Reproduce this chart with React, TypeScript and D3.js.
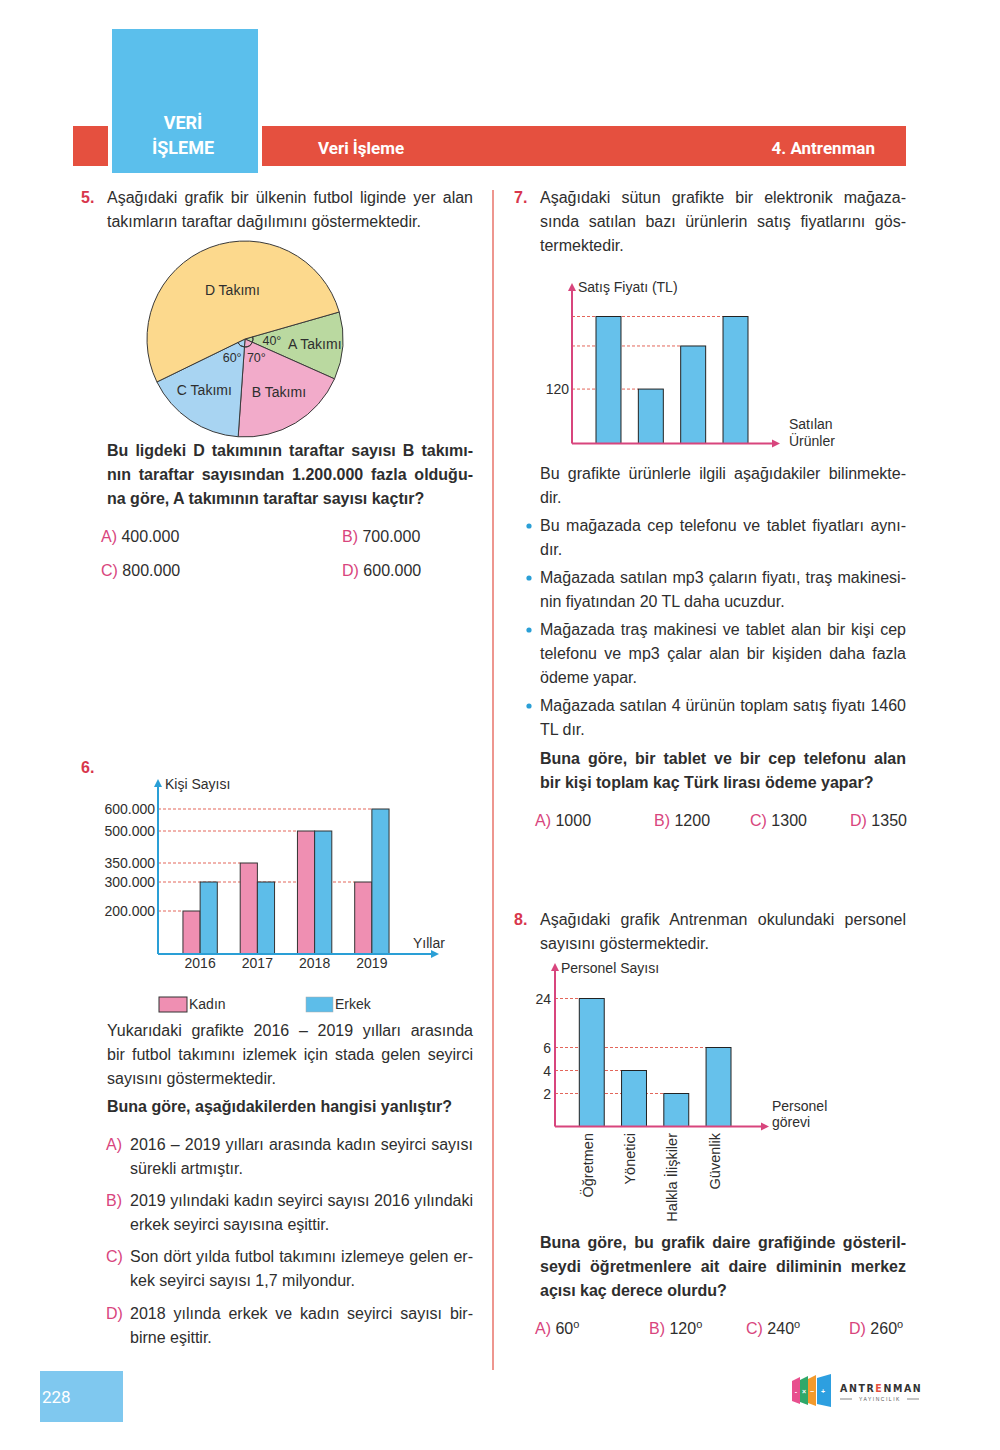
import { useEffect, useRef } from "react"
import * as d3 from "d3"

const FONT = "'Liberation Sans', Arial, sans-serif"
const INK = "#2e2e2e"
const NUM_RED = "#d8364c"
const OPT_PINK = "#d8457d"
const DASH = "#e3665a"

// Q5 pie
const teams = ["A Takımı", "B Takımı", "C Takımı", "D Takımı"]
const teamAngles = [40, 70, 60, 190]
const teamColors = ["#bad9a0", "#f2abca", "#a8d4f2", "#fcd98d"]
const angleLabels = ["40°", "70°", "60°"]

// Q6 grouped bars
const years = ["2016", "2017", "2018", "2019"]
const kadin = [200000, 350000, 500000, 300000]
const erkek = [300000, 300000, 500000, 600000]
const q6Ticks = [200000, 300000, 350000, 500000, 600000]

// Q7 bars (unlabelled products)
const products = ["u1", "u2", "u3", "u4"]
const prices = [280, 120, 215, 280]
const q7Labelled = [120]

// Q8 bars
const roles = ["Öğretmen", "Yönetici", "Halkla İlişkiler", "Güvenlik"]
const staff = [24, 4, 2, 6]
const q8Ticks = [2, 4, 6, 24]

const trFormat = d3.formatLocale({ decimal: ",", thousands: ".", grouping: [3], currency: ["", ""] }).format(",")

function Para({ x, y, lh = 24, w, lines, bold = false, size = 16 }: any) {
  return (
    <g>
      {lines.map((t: string, i: number) => (
        <text key={i} x={x} y={y + i * lh} data-w={i < lines.length - 1 ? w : undefined}
          fontSize={size} fontWeight={bold ? 700 : 400} fill={INK}>{t}</text>
      ))}
    </g>
  )
}

function Arrow({ x, y, dir, color }: any) {
  const p = dir === "up" ? `M${x},${y} L${x - 4},${y + 8} L${x + 4},${y + 8} Z` : `M${x},${y} L${x - 8},${y - 4} L${x - 8},${y + 4} Z`
  return <path d={p} fill={color} />
}

function Pie() {
  const cx = 245, cy = 339, r = 98
  const start = (74 * Math.PI) / 180
  const arcs = d3.pie<number>().sort(null).startAngle(start).endAngle(start + 2 * Math.PI)(teamAngles)
  const arc = d3.arc<d3.PieArcDatum<number>>().innerRadius(0).outerRadius(r)
  const small = d3.arc<d3.PieArcDatum<number>>().innerRadius(8).outerRadius(8)
  const labelR = [70, 62, 62, 52]
  const labelDx = [0, 2, -6, 6]
  const degR = [27, 22, 23]
  return (
    <g transform={`translate(${cx},${cy})`} fontSize={14} fill={INK}>
      {arcs.map((a, i) => (
        <path key={i} d={arc(a)!} fill={teamColors[i]} stroke="#3a3a3a" strokeWidth={1} />
      ))}
      {arcs.slice(0, 3).map((a, i) => (
        <path key={"s" + i} d={small(a)!} fill="none" stroke="#3a3a3a" strokeWidth={1} />
      ))}
      {arcs.map((a, i) => {
        const m = (a.startAngle + a.endAngle) / 2
        return (
          <text key={"l" + i} x={labelR[i] * Math.sin(m) + labelDx[i]} y={-labelR[i] * Math.cos(m) + 5} textAnchor="middle">{teams[i]}</text>
        )
      })}
      {arcs.slice(0, 3).map((a, i) => {
        const m = (a.startAngle + a.endAngle) / 2
        return (
          <text key={"d" + i} x={degR[i] * Math.sin(m)} y={-degR[i] * Math.cos(m) + 4} textAnchor="middle" fontSize={12.5}>{angleLabels[i]}</text>
        )
      })}
    </g>
  )
}

function Chart6() {
  const x0 = 158, base = 954
  const x = d3.scaleBand().domain(years).range([171.5, 400.5]).paddingInner(0.4).paddingOuter(0.2)
  const xi = d3.scaleBand().domain(["k", "e"]).range([0, x.bandwidth()])
  // the printed axis is not evenly spaced, so the scale follows its drawn tick spacing
  const y = d3.scaleLinear().domain([0, 200000, 300000, 350000, 500000, 600000]).range([base, 911, 882, 863, 831, 809])
  const blue = "#2a9fd6"
  const bars = years.flatMap((yr, i) => [
    { yr, s: "k", v: kadin[i], c: "#ef8fb2" },
    { yr, s: "e", v: erkek[i], c: "#5dbde9" },
  ])
  const ends = q6Ticks.map((t) => {
    const hit = bars.filter((b) => b.v === t)
    const last = hit[hit.length - 1]
    const firstOfLastYear = hit.find((b) => b.yr === last.yr)!
    return x(firstOfLastYear.yr)! + xi(firstOfLastYear.s)!
  })
  return (
    <g fontSize={14} fill={INK}>
      {q6Ticks.map((t, i) => (
        <g key={t}>
          <line x1={x0} x2={ends[i]} y1={y(t)} y2={y(t)} stroke={DASH} strokeDasharray="3,2" />
          <text x={155} y={y(t) + 5} textAnchor="end">{trFormat(t)}</text>
        </g>
      ))}
      {bars.map((b, i) => (
        <rect key={i} x={x(b.yr)! + xi(b.s)!} y={y(b.v)} width={xi.bandwidth()} height={base - y(b.v)}
          fill={b.c} stroke="#333" strokeWidth={1} />
      ))}
      {years.map((yr) => (
        <text key={yr} x={x(yr)! + x.bandwidth() / 2} y={968} textAnchor="middle">{yr}</text>
      ))}
      <line x1={x0} x2={x0} y1={base} y2={786} stroke={blue} strokeWidth={2} />
      <line x1={x0} x2={432} y1={base} y2={base} stroke={blue} strokeWidth={2} />
      <Arrow x={x0} y={779} dir="up" color={blue} />
      <Arrow x={439} y={base} dir="right" color={blue} />
      <text x={165} y={789}>Kişi Sayısı</text>
      <text x={413} y={948}>Yıllar</text>
      <rect x={159} y={997} width={28} height={15} fill="#ef8fb2" stroke="#333" />
      <text x={189} y={1009}>Kadın</text>
      <rect x={306} y={997} width={27} height={15} fill="#5dbde9" stroke="#aaa" strokeWidth={0.5} />
      <text x={335} y={1009}>Erkek</text>
    </g>
  )
}

function Chart7() {
  const x0 = 572, base = 443.5
  const mag = "#d8457d"
  const x = d3.scaleBand().domain(products).range([596, 748]).paddingInner(0.41).paddingOuter(0)
  const y = d3.scaleLinear().domain([0, 280]).range([base, 316.5])
  const levels = Array.from(new Set(prices))
  return (
    <g fontSize={14} fill={INK}>
      {levels.map((v) => {
        const idx = prices.lastIndexOf(v)
        return <line key={v} x1={x0} x2={x(products[idx])!} y1={y(v)} y2={y(v)} stroke={DASH} strokeDasharray="3,2" />
      })}
      {q7Labelled.map((v) => (
        <text key={v} x={569} y={y(v) + 5} textAnchor="end">{v}</text>
      ))}
      {products.map((p, i) => (
        <rect key={p} x={x(p)} y={y(prices[i])} width={x.bandwidth()} height={base - y(prices[i])}
          fill="#66c1eb" stroke="#222" strokeWidth={1} />
      ))}
      <line x1={x0} x2={x0} y1={base} y2={290} stroke={mag} strokeWidth={2} />
      <line x1={x0} x2={773} y1={base} y2={base} stroke={mag} strokeWidth={2} />
      <Arrow x={x0} y={283} dir="up" color={mag} />
      <Arrow x={780} y={base} dir="right" color={mag} />
      <text x={578} y={292}>Satış Fiyatı (TL)</text>
      <text x={789} y={429}>Satılan</text>
      <text x={789} y={446}>Ürünler</text>
    </g>
  )
}

function Chart8() {
  const x0 = 555, base = 1126.5
  const mag = "#d8457d"
  const x = d3.scaleBand().domain(roles).range([579.3, 731]).paddingInner(0.41).paddingOuter(0)
  // broken value axis: 0-6 spaced, then a jump to 24
  const y = d3.scaleLinear().domain([0, 2, 6, 24]).range([base, 1093.5, 1047.5, 998.5])
  return (
    <g fontSize={14} fill={INK}>
      {q8Ticks.map((t) => {
        const idx = staff.lastIndexOf(t)
        return (
          <g key={t}>
            <line x1={x0} x2={x(roles[idx])!} y1={y(t)} y2={y(t)} stroke={DASH} strokeDasharray="3,2" />
            <text x={551} y={y(t) + 5} textAnchor="end">{t}</text>
          </g>
        )
      })}
      {roles.map((r, i) => (
        <g key={r}>
          <rect x={x(r)} y={y(staff[i])} width={x.bandwidth()} height={base - y(staff[i])}
            fill="#66c1eb" stroke="#222" strokeWidth={1} />
          <text transform={`translate(${x(r)! + x.bandwidth() / 2 + 1},1133) rotate(-90)`} textAnchor="end" fontSize={14.5}>{r}</text>
        </g>
      ))}
      <line x1={x0} x2={x0} y1={base} y2={970} stroke={mag} strokeWidth={2} />
      <line x1={x0} x2={762} y1={base} y2={base} stroke={mag} strokeWidth={2} />
      <Arrow x={x0} y={963} dir="up" color={mag} />
      <Arrow x={769} y={base} dir="right" color={mag} />
      <text x={561} y={973}>Personel Sayısı</text>
      <text x={772} y={1111}>Personel</text>
      <text x={772} y={1127}>görevi</text>
    </g>
  )
}

function Opt({ x, y, l, t, sup }: any) {
  return (
    <text x={x} y={y} fontSize={16} fill={INK}>
      <tspan fill={OPT_PINK}>{l})</tspan> {t}
      {sup ? <tspan fontSize={11} dy={-6}>o</tspan> : null}
    </text>
  )
}

function Logo() {
  const tabs = [
    { x: 792, c: "#e8508e", s: "-" },
    { x: 800, c: "#2fa86a", s: "×" },
    { x: 808, c: "#f39a2c", s: "−" },
    { x: 817, c: "#2d9fe0", s: "+" },
  ]
  return (
    <g>
      {tabs.map((t, i) => (
        <g key={i}>
          <path d={`M${t.x},${1381 - i} L${t.x + (i === 3 ? 14 : 8)},${1377 - i} L${t.x + (i === 3 ? 14 : 8)},${1404 + i} L${t.x},${1401 + i} Z`} fill={t.c} />
          <text x={t.x + (i === 3 ? 6 : 4)} y={1394} fontSize={7} fill="#fff" textAnchor="middle" fontWeight={700}>{t.s}</text>
        </g>
      ))}
      <text x={840} y={1392} fontSize={10.5} fontWeight={700} fill="#333" letterSpacing={1.6} fontFamily="'DejaVu Sans Condensed', sans-serif">
        ANTR<tspan fill="#e5503f">E</tspan>NMAN
      </text>
      <line x1={840} x2={852} y1={1399} y2={1399} stroke="#555" strokeWidth={0.7} />
      <text x={880} y={1401} fontSize={5} fill="#555" textAnchor="middle" letterSpacing={1.5}>YAYINCILIK</text>
      <line x1={907} x2={919} y1={1399} y2={1399} stroke="#555" strokeWidth={0.7} />
    </g>
  )
}

export default function App() {
  const ref = useRef<SVGSVGElement>(null)

  useEffect(() => {
    if (!ref.current) return
    // justify lines by spreading the spaces
    d3.select(ref.current)
      .selectAll<SVGTextElement, unknown>("text[data-w]")
      .each(function () {
        this.setAttribute("word-spacing", "0")
        const w = +this.getAttribute("data-w")!
        const natural = this.getComputedTextLength()
        const spaces = (this.textContent || "").split(" ").length - 1
        if (spaces > 0 && natural < w) this.setAttribute("word-spacing", String((w - natural) / spaces))
      })
  }, [])

  return (
    <div style={{ position: "absolute", left: 0, top: 0 }}>
      <svg ref={ref} width={1000} height={1450} style={{ display: "block", background: "#fff" }} fontFamily={FONT}>
        {/* header */}
        <rect x={73} y={126} width={833} height={40} fill="#e5503f" />
        <rect x={110} y={27} width={150} height={148} fill="#5bbfec" stroke="#fff" strokeWidth={4} />
        <text x={183} y={129} fill="#fff" fontSize={18} fontWeight={700} textAnchor="middle" fontFamily="Roboto, sans-serif">VERİ</text>
        <text x={183} y={154} fill="#fff" fontSize={18} fontWeight={700} textAnchor="middle" fontFamily="Roboto, sans-serif">İŞLEME</text>
        <text x={318} y={154} fill="#fff" fontSize={17} fontWeight={700} fontFamily="Roboto, sans-serif">Veri İşleme</text>
        <text x={875} y={154} fill="#fff" fontSize={17} fontWeight={700} textAnchor="end" fontFamily="Roboto, sans-serif">4. Antrenman</text>

        <line x1={493} x2={493} y1={190} y2={1370} stroke="#e8736a" strokeWidth={1.5} />

        {/* Q5 */}
        <text x={81} y={203} fontSize={16} fontWeight={700} fill={NUM_RED}>5.</text>
        <Para x={107} y={203} w={366} lines={["Aşağıdaki grafik bir ülkenin futbol liginde yer alan", "takımların taraftar dağılımını göstermektedir."]} />
        <Pie />
        <Para x={107} y={456} w={366} bold lines={["Bu ligdeki D takımının taraftar sayısı B takımı-", "nın taraftar sayısından 1.200.000 fazla olduğu-", "na göre, A takımının taraftar sayısı kaçtır?"]} />
        <Opt x={101} y={542} l="A" t="400.000" />
        <Opt x={342} y={542} l="B" t="700.000" />
        <Opt x={101} y={576} l="C" t="800.000" />
        <Opt x={342} y={576} l="D" t="600.000" />

        {/* Q6 */}
        <text x={81} y={773} fontSize={16} fontWeight={700} fill={NUM_RED}>6.</text>
        <Chart6 />
        <Para x={107} y={1036} w={366} lines={["Yukarıdaki grafikte 2016 – 2019 yılları arasında", "bir futbol takımını izlemek için stada gelen seyirci", "sayısını göstermektedir."]} />
        <Para x={107} y={1112} w={366} bold lines={["Buna göre, aşağıdakilerden hangisi yanlıştır?"]} />
        <text x={106} y={1150} fontSize={16} fill={OPT_PINK}>A)</text>
        <Para x={130} y={1150} w={343} lines={["2016 – 2019 yılları arasında kadın seyirci sayısı", "sürekli artmıştır."]} />
        <text x={106} y={1206} fontSize={16} fill={OPT_PINK}>B)</text>
        <Para x={130} y={1206} w={343} lines={["2019 yılındaki kadın seyirci sayısı 2016 yılındaki", "erkek seyirci sayısına eşittir."]} />
        <text x={106} y={1262} fontSize={16} fill={OPT_PINK}>C)</text>
        <Para x={130} y={1262} w={343} lines={["Son dört yılda futbol takımını izlemeye gelen er-", "kek seyirci sayısı 1,7 milyondur."]} />
        <text x={106} y={1319} fontSize={16} fill={OPT_PINK}>D)</text>
        <Para x={130} y={1319} w={343} lines={["2018 yılında erkek ve kadın seyirci sayısı bir-", "birne eşittir."]} />

        {/* Q7 */}
        <text x={514} y={203} fontSize={16} fontWeight={700} fill={NUM_RED}>7.</text>
        <Para x={540} y={203} w={366} lines={["Aşağıdaki sütun grafikte bir elektronik mağaza-", "sında satılan bazı ürünlerin satış fiyatlarını gös-", "termektedir."]} />
        <Chart7 />
        <Para x={540} y={479} w={366} lines={["Bu grafikte ürünlerle ilgili aşağıdakiler bilinmekte-", "dir."]} />
        {[531, 583, 635, 711].map((yy) => (
          <circle key={yy} cx={529} cy={yy - 5} r={2.6} fill="#2a9fd6" />
        ))}
        <Para x={540} y={531} w={366} lines={["Bu mağazada cep telefonu ve tablet fiyatları aynı-", "dır."]} />
        <Para x={540} y={583} w={366} lines={["Mağazada satılan mp3 çaların fiyatı, traş makinesi-", "nin fiyatından 20 TL daha ucuzdur."]} />
        <Para x={540} y={635} w={366} lines={["Mağazada traş makinesi ve tablet alan bir kişi cep", "telefonu ve mp3 çalar alan bir kişiden daha fazla", "ödeme yapar."]} />
        <Para x={540} y={711} w={366} lines={["Mağazada satılan 4 ürünün toplam satış fiyatı 1460", "TL dır."]} />
        <Para x={540} y={764} w={366} bold lines={["Buna göre, bir tablet ve bir cep telefonu alan", "bir kişi toplam kaç Türk lirası ödeme yapar?"]} />
        <Opt x={535} y={826} l="A" t="1000" />
        <Opt x={654} y={826} l="B" t="1200" />
        <Opt x={750} y={826} l="C" t="1300" />
        <Opt x={850} y={826} l="D" t="1350" />

        {/* Q8 */}
        <text x={514} y={925} fontSize={16} fontWeight={700} fill={NUM_RED}>8.</text>
        <Para x={540} y={925} w={366} lines={["Aşağıdaki grafik Antrenman okulundaki personel", "sayısını göstermektedir."]} />
        <Chart8 />
        <Para x={540} y={1248} w={366} bold lines={["Buna göre, bu grafik daire grafiğinde gösteril-", "seydi öğretmenlere ait daire diliminin merkez", "açısı kaç derece olurdu?"]} />
        <Opt x={535} y={1334} l="A" t="60" sup />
        <Opt x={649} y={1334} l="B" t="120" sup />
        <Opt x={746} y={1334} l="C" t="240" sup />
        <Opt x={849} y={1334} l="D" t="260" sup />

        {/* footer */}
        <rect x={40} y={1371} width={83} height={51} fill="#7fc8ef" />
        <text x={42} y={1403} fontSize={17} fill="#fff" fontFamily="Roboto, sans-serif">228</text>
        <Logo />
      </svg>
    </div>
  )
}
